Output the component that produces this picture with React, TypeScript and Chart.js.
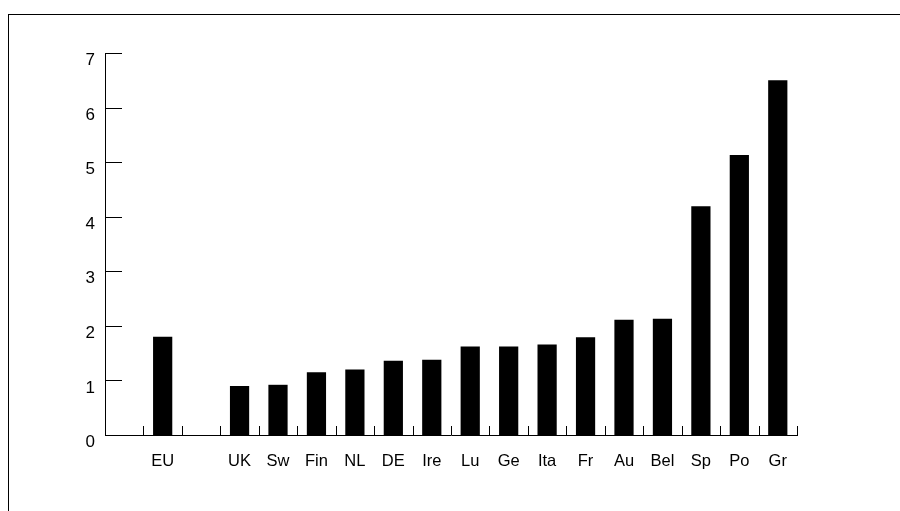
import React, { useEffect, useRef } from "react";
import { Chart, registerables } from "chart.js";

Chart.register(...registerables);

const categories = ["", "EU", "", "UK", "Sw", "Fin", "NL", "DE", "Ire", "Lu", "Ge", "Ita", "Fr", "Au", "Bel", "Sp", "Po", "Gr"];
const values: (number | null)[] = [null, 1.8, null, 0.9, 0.92, 1.15, 1.2, 1.36, 1.38, 1.62, 1.62, 1.66, 1.79, 2.11, 2.13, 4.19, 5.13, 6.5];
const yTicks = [0, 1, 2, 3, 4, 5, 6, 7];

const FONT = "'Liberation Sans', Arial, Helvetica, sans-serif";

const inwardTicks = {
  id: "inwardTicks",
  afterDraw(chart: any) {
    const { ctx, chartArea, scales } = chart;
    const x = scales.x;
    const y = scales.y;
    ctx.save();
    ctx.strokeStyle = "#000";
    ctx.lineWidth = 1;
    ctx.beginPath();
    for (const v of yTicks) {
      if (v === 0) continue;
      const py = Math.round(y.getPixelForValue(v)) + 0.5;
      ctx.moveTo(chartArea.left, py);
      ctx.lineTo(chartArea.left + 17, py);
    }
    const n = categories.length;
    for (let i = 0; i < n; i++) {
      const p = x.getPixelForValue(i);
      const step = i < n - 1 ? x.getPixelForValue(i + 1) - p : p - x.getPixelForValue(i - 1);
      const bx = Math.round(p + step / 2) + 0.5;
      ctx.moveTo(bx, chartArea.bottom);
      ctx.lineTo(bx, chartArea.bottom - 9);
    }
    ctx.stroke();
    ctx.restore();
  },
};

export default function App() {
  const ref = useRef<HTMLCanvasElement>(null);
  useEffect(() => {
    if (!ref.current) return;
    const chart = new Chart(ref.current, {
      type: "bar",
      data: {
        labels: categories,
        datasets: [
          {
            data: values,
            backgroundColor: "#000",
            borderWidth: 0,
            barPercentage: 0.5,
            categoryPercentage: 1.0,
          },
        ],
      },
      options: {
        responsive: false,
        animation: false,
        events: [],
        layout: { padding: { top: 53, right: 103, left: 0, bottom: 0 } },
        plugins: { legend: { display: false }, tooltip: { enabled: false } },
        scales: {
          x: {
            offset: true,
            grid: { display: false, drawTicks: false },
            border: { display: true, color: "#000", width: 1 },
            ticks: {
              autoSkip: false,
              maxRotation: 0,
              color: "#000",
              padding: 17,
              font: { family: FONT, size: 16.5 },
            },
            afterFit(scale: any) {
              scale.height = 76;
            },
          },
          y: {
            min: 0,
            max: 7,
            grid: { display: false, drawTicks: false },
            border: { display: true, color: "#000", width: 1 },
            ticks: {
              stepSize: 1,
              color: "#000",
              padding: 10,
              labelOffset: 7.5,
              font: { family: FONT, size: 17 },
            },
            afterFit(scale: any) {
              scale.width = 105;
            },
          },
        },
      },
      plugins: [inwardTicks],
    });
    return () => chart.destroy();
  }, []);

  return (
    <div style={{ position: "fixed", left: 0, top: 0, width: 900, height: 511, background: "#fff", overflow: "hidden" }}>
      <div
        style={{
          position: "absolute",
          left: 8,
          top: 14,
          width: 1000,
          height: 600,
          borderTop: "1px solid #000",
          borderLeft: "1px solid #000",
          boxSizing: "border-box",
        }}
      />
      <canvas ref={ref} width={900} height={511} style={{ position: "absolute", left: 0, top: 0 }} />
    </div>
  );
}
